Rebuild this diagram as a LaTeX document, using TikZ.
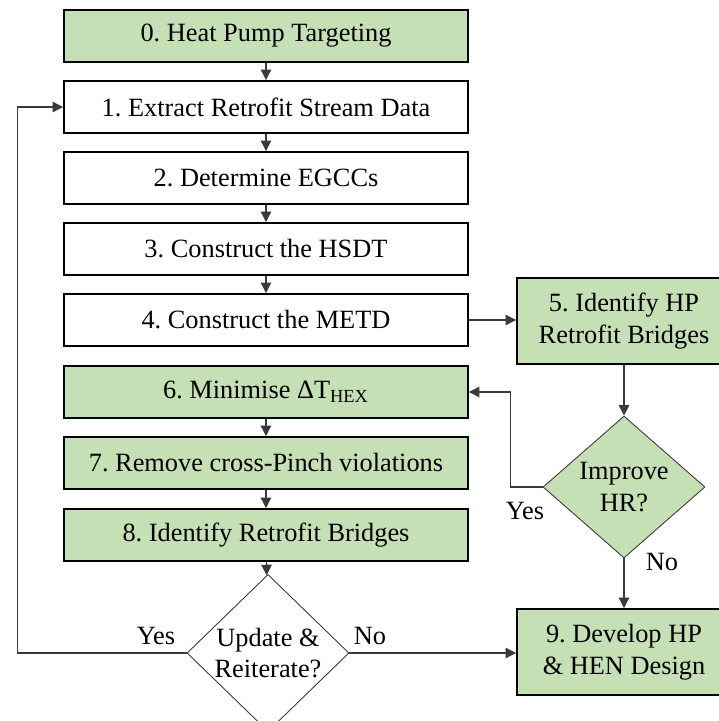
\documentclass[tikz,border=0pt]{standalone}
\usepackage{fontspec}
\setmainfont{Liberation Serif}
\usetikzlibrary{shapes.geometric,arrows.meta}
\definecolor{lightgreen}{HTML}{C5E0B4}
\definecolor{linegrey}{HTML}{3A3A3A}
\frenchspacing

\begin{document}
\begin{tikzpicture}[x=0.02cm,y=-0.02cm,
  font=\fontsize{15}{18}\selectfont\frenchspacing,
  stepbox/.style={draw=black, line width=1.1pt, minimum width=8.08cm, minimum height=1.04cm, inner sep=0pt},
  sidebox/.style={draw=black, line width=1.1pt, fill=lightgreen, minimum width=4.28cm, minimum height=1.72cm, align=center, inner sep=0pt},
  decision/.style={diamond, draw=linegrey, line width=0.5pt, minimum width=3.24cm, minimum height=2.84cm, inner sep=0pt, align=center},
  arr/.style={draw=linegrey, line width=0.6pt, -{Triangle[length=6pt,width=6pt]}}]
\useasboundingbox (0,0) rectangle (718,721);
% main column
\node[stepbox,fill=lightgreen] (s0) at (266,36) {0. Heat Pump Targeting};
\node[stepbox,fill=white] (s1) at (266,107) {1. Extract Retrofit Stream Data};
\node[stepbox,fill=white] (s2) at (266,178) {2. Determine EGCCs};
\node[stepbox,fill=white] (s3) at (266,249) {3. Construct the HSDT};
\node[stepbox,fill=white] (s4) at (266,320) {4. Construct the METD};
\node[stepbox,fill=lightgreen] (s6) at (266,392) {6. Minimise ΔT\textsubscript{HEX}};
\node[stepbox,fill=lightgreen] (s7) at (266,463) {7. Remove cross-Pinch violations};
\node[stepbox,fill=lightgreen] (s8) at (266,535) {8. Identify Retrofit Bridges};
% right column
\node[sidebox] (s5) at (624,321) {5. Identify HP\\Retrofit Bridges};
\node[decision,fill=lightgreen] (imp) at (624,487) {Improve\\HR?};
\node[sidebox] (s9) at (624,652) {9. Develop HP\\\& HEN Design};
\node[decision,fill=white] (upd) at (268,653) {Update \&\\Reiterate?};
% labels
\node (impyes) at (525,511) {Yes};
\node (impno) at (662,562) {No};
\node (updyes) at (156,636) {Yes};
\node (updno) at (370,636) {No};
% connectors
\draw[arr] (s0) -- (s1);
\draw[arr] (s1) -- (s2);
\draw[arr] (s2) -- (s3);
\draw[arr] (s3) -- (s4);
\draw[arr] (s6) -- (s7);
\draw[arr] (s7) -- (s8);
\draw[arr] (s8) -- (upd);
\draw[arr] (s4.east) -- (s4.east -| s5.west);
\draw[arr] (s5) -- (imp);
\draw[arr] (imp) -- (s9);
\draw[arr] (imp.west) -- ++(-32,0) |- (s6.east);
\draw[arr] (upd.east) -- (upd.east -| s9.west);
\draw[arr] (upd.west) -- ++(-169,0) |- (s1.west);
\end{tikzpicture}
\end{document}
